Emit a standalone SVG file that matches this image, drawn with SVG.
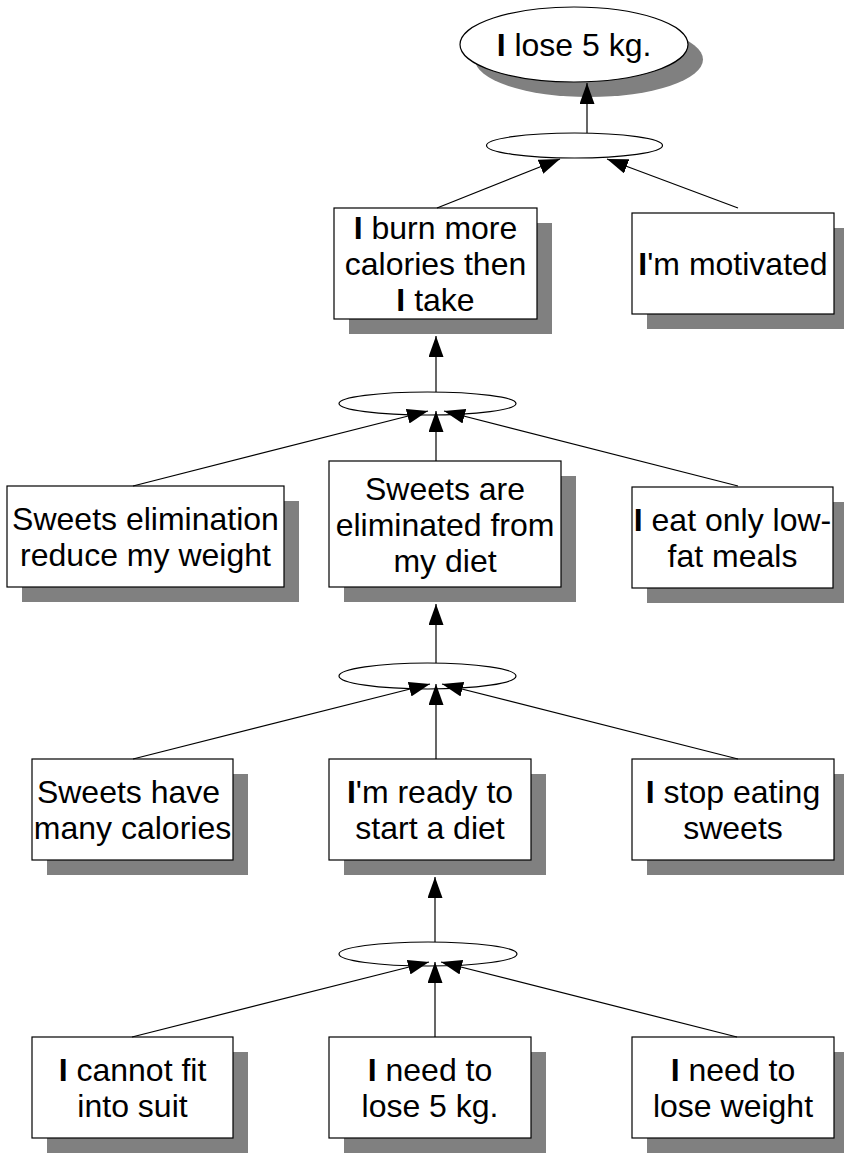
<svg xmlns="http://www.w3.org/2000/svg" width="844" height="1153" viewBox="0 0 844 1153">
  <defs>
    <marker id="arrow" markerUnits="userSpaceOnUse" markerWidth="21" markerHeight="15" viewBox="0 0 21 15" refX="21" refY="7.5" orient="auto">
      <path d="M0,0 L21,7.5 L0,15 Z" fill="#000"/>
    </marker>
    <style>
      .shadow { fill: #808080; stroke: none; }
      .box { fill: #fff; stroke: #000; stroke-width: 1.2; }
      .and { fill: #fff; stroke: #000; stroke-width: 1.2; }
      .lbl { font-family: "Liberation Sans", Arial, sans-serif; font-size: 32px; fill: #000; text-anchor: middle; }
      .b { font-weight: bold; }
      .conn line { stroke: #000; stroke-width: 1.2; marker-end: url(#arrow); }
    </style>
  </defs>
  <rect width="844" height="1153" fill="#fff"/>

  <!-- goal -->
  <g id="goal">
    <ellipse class="shadow" cx="589" cy="59.5" rx="114" ry="37.5"/>
    <ellipse class="box" cx="574" cy="44.5" rx="114" ry="37.5"/>
    <text class="lbl" x="574" y="56"><tspan class="b">I</tspan> lose 5 kg.</text>
  </g>

  <!-- AND junctions -->
  <g id="and1"><ellipse class="and" cx="574.5" cy="145.5" rx="88" ry="12.5"/></g>
  <g id="and2"><ellipse class="and" cx="427.5" cy="403.5" rx="88.5" ry="11.5"/></g>
  <g id="and3"><ellipse class="and" cx="427.5" cy="676" rx="88.5" ry="13"/></g>
  <g id="and4"><ellipse class="and" cx="428" cy="954" rx="89" ry="12"/></g>

  <!-- level 1 -->
  <g id="burn">
    <rect class="shadow" x="349" y="223" width="203" height="111"/>
    <rect class="box" x="334" y="208" width="203" height="111"/>
    <text class="lbl" x="435.5" y="239"><tspan class="b">I</tspan> burn more</text>
    <text class="lbl" x="435.5" y="275">calories then</text>
    <text class="lbl" x="435.5" y="311"><tspan class="b">I</tspan> take</text>
  </g>
  <g id="motivated">
    <rect class="shadow" x="647" y="228" width="202" height="101"/>
    <rect class="box" x="632" y="213" width="202" height="101"/>
    <text class="lbl" x="733" y="275"><tspan class="b">I</tspan>'m motivated</text>
  </g>

  <!-- level 2 -->
  <g id="elimination-reduce">
    <rect class="shadow" x="22" y="501" width="277" height="101"/>
    <rect class="box" x="7" y="486" width="277" height="101"/>
    <text class="lbl" x="145.5" y="530">Sweets elimination</text>
    <text class="lbl" x="145.5" y="566">reduce my weight</text>
  </g>
  <g id="eliminated">
    <rect class="shadow" x="344" y="476" width="232" height="126"/>
    <rect class="box" x="329" y="461" width="232" height="126"/>
    <text class="lbl" x="445" y="499.5">Sweets are</text>
    <text class="lbl" x="445" y="535.5">eliminated from</text>
    <text class="lbl" x="445" y="571.5">my diet</text>
  </g>
  <g id="lowfat">
    <rect class="shadow" x="647" y="502" width="201" height="101"/>
    <rect class="box" x="632" y="487" width="201" height="101"/>
    <text class="lbl" x="732.5" y="531"><tspan class="b">I</tspan> eat only low-</text>
    <text class="lbl" x="732.5" y="567">fat meals</text>
  </g>

  <!-- level 3 -->
  <g id="calories">
    <rect class="shadow" x="47" y="774" width="201" height="101"/>
    <rect class="box" x="32" y="759" width="201" height="101"/>
    <text class="lbl" x="128.5" y="803">Sweets have</text>
    <text class="lbl" x="132.5" y="839">many calories</text>
  </g>
  <g id="ready">
    <rect class="shadow" x="344" y="774" width="202" height="101"/>
    <rect class="box" x="329" y="759" width="202" height="101"/>
    <text class="lbl" x="430" y="803"><tspan class="b">I</tspan>'m ready to</text>
    <text class="lbl" x="430" y="839">start a diet</text>
  </g>
  <g id="stop-sweets">
    <rect class="shadow" x="647" y="774" width="202" height="101"/>
    <rect class="box" x="632" y="759" width="202" height="101"/>
    <text class="lbl" x="733" y="803"><tspan class="b">I</tspan> stop eating</text>
    <text class="lbl" x="733" y="839">sweets</text>
  </g>

  <!-- level 4 -->
  <g id="suit">
    <rect class="shadow" x="47" y="1052" width="201" height="101"/>
    <rect class="box" x="32" y="1037" width="201" height="101"/>
    <text class="lbl" x="132.5" y="1081"><tspan class="b">I</tspan> cannot fit</text>
    <text class="lbl" x="132.5" y="1117">into suit</text>
  </g>
  <g id="need-5kg">
    <rect class="shadow" x="344" y="1052" width="202" height="101"/>
    <rect class="box" x="329" y="1037" width="202" height="101"/>
    <text class="lbl" x="430" y="1081"><tspan class="b">I</tspan> need to</text>
    <text class="lbl" x="430" y="1117">lose 5 kg.</text>
  </g>
  <g id="need-weight">
    <rect class="shadow" x="647" y="1052" width="202" height="101"/>
    <rect class="box" x="632" y="1037" width="202" height="101"/>
    <text class="lbl" x="733" y="1081"><tspan class="b">I</tspan> need to</text>
    <text class="lbl" x="733" y="1117">lose weight</text>
  </g>

  <!-- connectors -->
  <g id="connectors" class="conn">
    <line x1="587" y1="133" x2="587" y2="83"/>
    <line x1="437" y1="208" x2="560" y2="159"/>
    <line x1="738" y1="208" x2="607" y2="159"/>

    <line x1="436" y1="392" x2="436" y2="336"/>
    <line x1="133" y1="486" x2="428" y2="411"/>
    <line x1="436" y1="461" x2="436" y2="411"/>
    <line x1="738" y1="486" x2="444" y2="411"/>

    <line x1="436" y1="663" x2="436" y2="604"/>
    <line x1="133" y1="759" x2="430" y2="684"/>
    <line x1="436" y1="759" x2="436" y2="684"/>
    <line x1="738" y1="759" x2="442" y2="684"/>

    <line x1="435" y1="942" x2="435" y2="877"/>
    <line x1="132" y1="1037" x2="429" y2="962"/>
    <line x1="435" y1="1037" x2="435" y2="962"/>
    <line x1="737" y1="1037" x2="441" y2="962"/>
  </g>
</svg>
